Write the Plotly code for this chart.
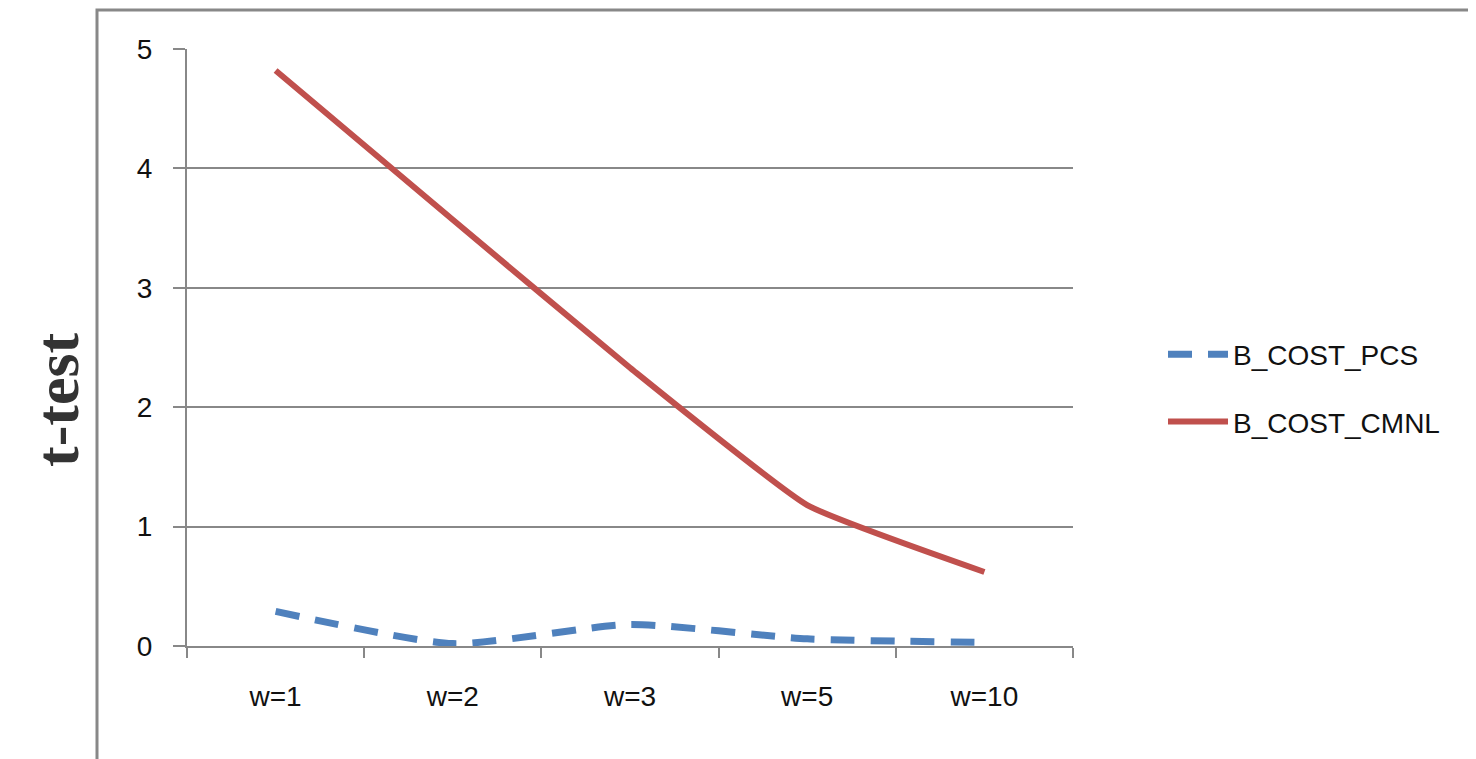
import plotly.graph_objects as go

categories = ["w=1", "w=2", "w=3", "w=5", "w=10"]
b_cost_pcs = [0.29, 0.02, 0.18, 0.06, 0.03]
b_cost_cmnl = [4.82, 3.57, 2.33, 1.18, 0.62]
y_ticks = [0, 1, 2, 3, 4, 5]

OFF = 8  # page body margin
W, H = 1476 - OFF, 759 - OFF
L, R, T, B = 187 - OFF, 1476 - 1073, 49 - OFF, 759 - 646
PW, PH = W - L - R, H - T - B


def px_x(x):
    return (x - OFF - L) / PW


def px_y(y):
    return (646 - y) / PH


fig = go.Figure()
fig.add_trace(go.Scatter(
    x=categories, y=b_cost_pcs, name="B_COST_PCS", mode="lines",
    line=dict(color="#4F81BD", width=7, dash="24px,16px", shape="spline", smoothing=0.6),
    legendgroup="a",
))
fig.add_trace(go.Scatter(
    x=categories, y=b_cost_cmnl, name="B_COST_CMNL", mode="lines",
    line=dict(color="#C0504D", width=6, shape="spline", smoothing=0.4),
    legendgroup="b",
))

font = dict(family="Liberation Sans, Arial, sans-serif", size=28, color="#111111")

fig.update_layout(
    width=W, height=H,
    margin=dict(l=L, r=R, t=T, b=B, autoexpand=False),
    paper_bgcolor="white", plot_bgcolor="white",
    font=font,
    showlegend=True,
    legend=dict(
        x=px_x(1163), y=px_y(388), xanchor="left", yanchor="middle",
        traceorder="grouped", tracegroupgap=28,
        font=font,
        bgcolor="rgba(0,0,0,0)", itemwidth=60,
    ),
    xaxis=dict(
        type="category", range=[-0.5, 4.5],
        showline=True, linecolor="#888888", linewidth=2,
        ticks="outside", tickson="boundaries", ticklen=10, tickcolor="#888888", tickwidth=2,
        showgrid=False, ticklabelstandoff=24, zeroline=False,
        tickfont=font,
    ),
    yaxis=dict(
        range=[0, 5], tickvals=y_ticks,
        showline=True, linecolor="#888888", linewidth=2,
        ticks="outside", ticklen=12, tickcolor="#888888", tickwidth=2,
        showgrid=True, gridcolor="#888888", gridwidth=2, zeroline=False,
        ticklabelstandoff=15, tickfont=font,
    ),
    annotations=[dict(
        text="<b>t-test</b>", xref="paper", yref="paper",
        x=px_x(57), y=px_y(400),
        xanchor="center", yanchor="middle", textangle=-90, showarrow=False,
        font=dict(family="Liberation Serif, Times New Roman, serif", size=62, color="#333333"),
    )],
    shapes=[dict(
        type="rect", xref="paper", yref="paper",
        x0=px_x(97), x1=px_x(1500),
        y0=px_y(790), y1=px_y(10),
        line=dict(color="#888888", width=3), fillcolor="rgba(0,0,0,0)", layer="below",
    )],
)

fig.write_html("out.html")
